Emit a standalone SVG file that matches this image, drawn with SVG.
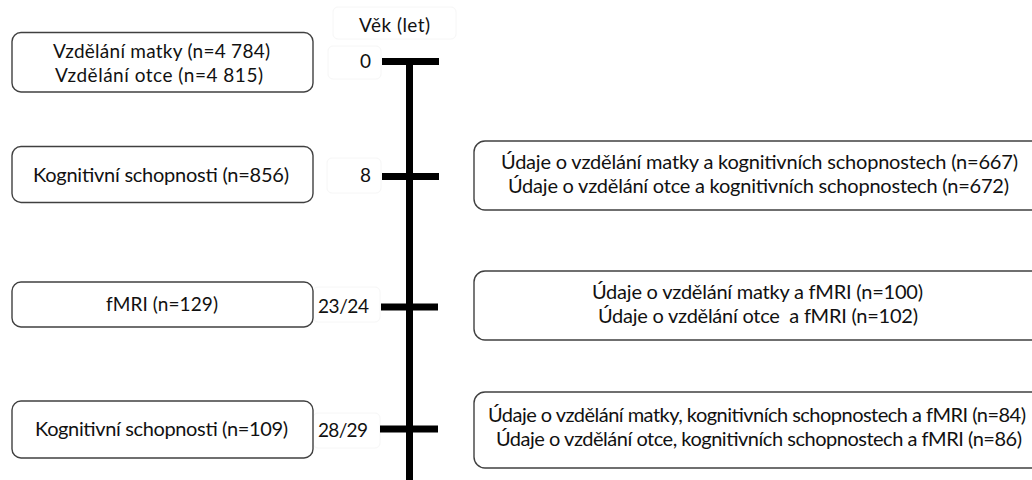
<svg xmlns="http://www.w3.org/2000/svg" width="1032" height="480" viewBox="0 0 1032 480">
<style>
.box{fill:#fff;stroke:#404040;stroke-width:1.4}
.faint{fill:none;stroke:#f6f6f6;stroke-width:1}
text{font-family:Lato,"Liberation Sans",sans-serif;font-size:19px;fill:#111}
.big{font-size:20px}
.c{text-anchor:middle}
.axis{stroke:#000;stroke-width:7;fill:none}
</style>
<rect width="1032" height="480" fill="#fff"/>
<g id="labels">
<rect class="faint" x="333" y="7" width="123" height="32" rx="5"/>
<text class="c" x="394.5" y="32" textLength="71">Věk (let)</text>
<rect class="faint" x="328" y="46" width="53" height="33" rx="5"/>
<text class="c" x="365.5" y="68">0</text>
<rect class="faint" x="327" y="158" width="54" height="35" rx="5"/>
<text class="c" x="365.5" y="182">8</text>
<rect class="faint" x="313" y="287" width="67" height="35" rx="5"/>
<text x="318" y="313" textLength="51">23/24</text>
<rect class="faint" x="313" y="413" width="67" height="35" rx="5"/>
<text x="318" y="437" textLength="50">28/29</text>
</g>
<g id="timeline">
<line class="axis" x1="409.5" y1="62" x2="409.5" y2="480"/>
<line class="axis" x1="382" y1="61.5" x2="439" y2="61.5"/>
<line class="axis" x1="382" y1="176.5" x2="439" y2="176.5"/>
<line class="axis" x1="381" y1="307" x2="438" y2="307"/>
<line class="axis" x1="380" y1="429" x2="438" y2="429"/>
</g>
<g id="left-0">
<rect class="box" x="12" y="32.5" width="301" height="59.5" rx="9"/>
<text class="c" x="161.5" y="58" textLength="217">Vzdělání matky (n=4 784)</text>
<text class="c" x="159" y="82" textLength="208">Vzdělání otce (n=4 815)</text>
</g>
<g id="left-8">
<rect class="box" x="12" y="146.5" width="301" height="56" rx="9"/>
<text class="c big" x="161" y="182" textLength="256">Kognitivní schopnosti (n=856)</text>
</g>
<g id="left-23">
<rect class="box" x="12" y="282" width="301" height="45" rx="9"/>
<text class="c" x="162" y="311" textLength="112">fMRI (n=129)</text>
</g>
<g id="left-28">
<rect class="box" x="12" y="401" width="301" height="57" rx="9"/>
<text class="c big" x="161.5" y="436" textLength="253">Kognitivní schopnosti (n=109)</text>
</g>
<g id="right-8">
<rect class="box" x="474" y="141" width="580" height="69" rx="11"/>
<text class="c big" x="759.5" y="169" textLength="517">Údaje o vzdělání matky a kognitivních schopnostech (n=667)</text>
<text class="c big" x="758.5" y="193" textLength="501">Údaje o vzdělání otce a kognitivních schopnostech (n=672)</text>
</g>
<g id="right-23">
<rect class="box" x="474" y="271" width="580" height="69" rx="11"/>
<text class="c big" x="757.5" y="299" textLength="331">Údaje o vzdělání matky a fMRI (n=100)</text>
<text class="c big" x="758" y="323" textLength="320" xml:space="preserve">Údaje o vzdělání otce  a fMRI (n=102)</text>
</g>
<g id="right-28">
<rect class="box" x="474" y="392" width="580" height="76" rx="11"/>
<text class="c big" x="757" y="422" textLength="538">Údaje o vzdělání matky, kognitivních schopnostech a fMRI (n=84)</text>
<text class="c big" x="759" y="446" textLength="526">Údaje o vzdělání otce, kognitivních schopnostech a fMRI (n=86)</text>
</g>
</svg>
